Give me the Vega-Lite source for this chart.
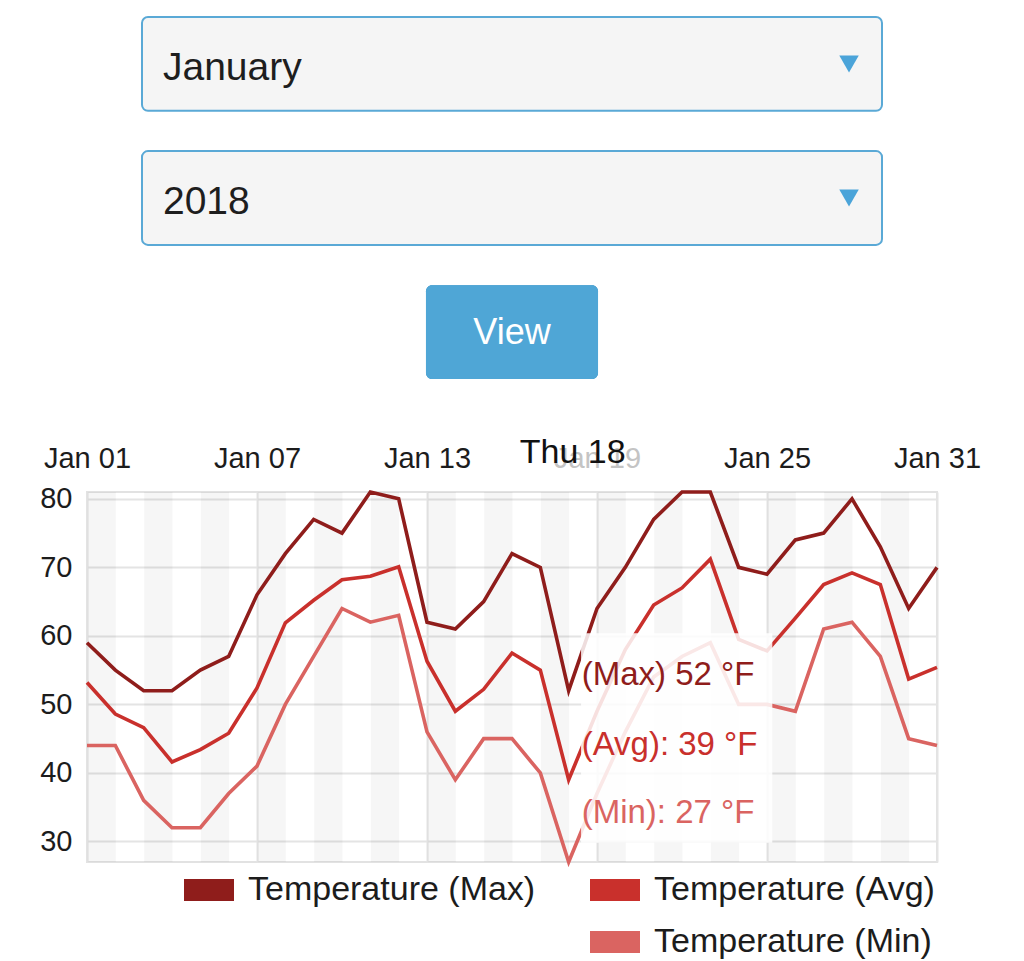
{
  "$schema": "https://vega.github.io/schema/vega-lite/v6.json",
  "padding": {"left": 38, "top": 0, "right": 0, "bottom": 0},
  "spacing": 39,
  "config": {
    "font": "Liberation Sans",
    "view": {"stroke": "#e2e2e2", "strokeWidth": 2}
  },
  "vconcat": [
    {
      "width": 850,
      "height": 396,
      "view": {"stroke": null},
      "data": {"values": [
        {"label": "January", "kind": "select"},
        {"label": "2018", "kind": "select"},
        {"label": "View", "kind": "button"}
      ]},
      "encoding": {
        "y": {"field": "label", "type": "nominal", "title": null, "axis": null,
              "scale": {"domain": ["January", "2018", "View"], "paddingInner": 0.3, "paddingOuter": 0.127}}
      },
      "layer": [
        {
          "transform": [{"filter": "datum.kind == 'select'"}],
          "mark": {"type": "rect", "fill": "#f5f5f5", "stroke": "#5aa9d6", "strokeWidth": 2, "cornerRadius": 6},
          "encoding": {
            "x": {"datum": 6.47, "type": "quantitative", "scale": {"domain": [0, 100]}, "axis": null, "title": null},
            "x2": {"datum": 93.53}
          }
        },
        {
          "transform": [{"filter": "datum.kind == 'select'"}],
          "mark": {"type": "text", "align": "left", "baseline": "middle", "fontSize": 39, "color": "#1e1e1e", "dy": 4},
          "encoding": {
            "x": {"datum": 8.94, "type": "quantitative"},
            "text": {"field": "label"}
          }
        },
        {
          "transform": [{"filter": "datum.kind == 'select'"}],
          "mark": {"type": "point", "shape": "triangle-down", "filled": true, "size": 380, "color": "#4ba4d9", "opacity": 1},
          "encoding": {
            "x": {"datum": 89.65, "type": "quantitative"}
          }
        },
        {
          "transform": [{"filter": "datum.kind == 'button'"}],
          "mark": {"type": "rect", "fill": "#3b8ec2", "cornerRadius": 6},
          "encoding": {
            "x": {"datum": 39.88, "type": "quantitative"},
            "x2": {"datum": 60.12}
          }
        },
        {
          "transform": [{"filter": "datum.kind == 'button'"}],
          "mark": {"type": "rect", "fill": "#4fa6d6", "cornerRadius": 6, "y2Offset": -6},
          "encoding": {
            "x": {"datum": 39.88, "type": "quantitative"},
            "x2": {"datum": 60.12}
          }
        },
        {
          "transform": [{"filter": "datum.kind == 'button'"}],
          "mark": {"type": "text", "align": "center", "baseline": "middle", "fontSize": 36, "color": "#ffffff", "dy": 1},
          "encoding": {
            "x": {"datum": 50, "type": "quantitative"},
            "text": {"field": "label"}
          }
        }
      ]
    },
    {
      "width": 850,
      "height": 370,
      "data": {"values": [
        {"date": "2018-01-01", "Temperature (Max)": 59, "Temperature (Avg)": 53.2, "Temperature (Min)": 44},
        {"date": "2018-01-02", "Temperature (Max)": 55, "Temperature (Avg)": 48.6, "Temperature (Min)": 44},
        {"date": "2018-01-03", "Temperature (Max)": 52, "Temperature (Avg)": 46.6, "Temperature (Min)": 36},
        {"date": "2018-01-04", "Temperature (Max)": 52, "Temperature (Avg)": 41.6, "Temperature (Min)": 32},
        {"date": "2018-01-05", "Temperature (Max)": 55, "Temperature (Avg)": 43.4, "Temperature (Min)": 32},
        {"date": "2018-01-06", "Temperature (Max)": 57, "Temperature (Avg)": 45.8, "Temperature (Min)": 37},
        {"date": "2018-01-07", "Temperature (Max)": 66, "Temperature (Avg)": 52.4, "Temperature (Min)": 41},
        {"date": "2018-01-08", "Temperature (Max)": 72, "Temperature (Avg)": 61.9, "Temperature (Min)": 50},
        {"date": "2018-01-09", "Temperature (Max)": 77, "Temperature (Avg)": 65.2, "Temperature (Min)": 57},
        {"date": "2018-01-10", "Temperature (Max)": 75, "Temperature (Avg)": 68.2, "Temperature (Min)": 64},
        {"date": "2018-01-11", "Temperature (Max)": 81, "Temperature (Avg)": 68.7, "Temperature (Min)": 62},
        {"date": "2018-01-12", "Temperature (Max)": 80, "Temperature (Avg)": 70.1, "Temperature (Min)": 63},
        {"date": "2018-01-13", "Temperature (Max)": 62, "Temperature (Avg)": 56.3, "Temperature (Min)": 46},
        {"date": "2018-01-14", "Temperature (Max)": 61, "Temperature (Avg)": 49.0, "Temperature (Min)": 39},
        {"date": "2018-01-15", "Temperature (Max)": 65, "Temperature (Avg)": 52.2, "Temperature (Min)": 45},
        {"date": "2018-01-16", "Temperature (Max)": 72, "Temperature (Avg)": 57.5, "Temperature (Min)": 45},
        {"date": "2018-01-17", "Temperature (Max)": 70, "Temperature (Avg)": 55.0, "Temperature (Min)": 40},
        {"date": "2018-01-18", "Temperature (Max)": 52, "Temperature (Avg)": 39.0, "Temperature (Min)": 27},
        {"date": "2018-01-19", "Temperature (Max)": 64, "Temperature (Avg)": 49.0, "Temperature (Min)": 37},
        {"date": "2018-01-20", "Temperature (Max)": 70, "Temperature (Avg)": 58.0, "Temperature (Min)": 46},
        {"date": "2018-01-21", "Temperature (Max)": 77, "Temperature (Avg)": 64.5, "Temperature (Min)": 54},
        {"date": "2018-01-22", "Temperature (Max)": 81, "Temperature (Avg)": 67.0, "Temperature (Min)": 57},
        {"date": "2018-01-23", "Temperature (Max)": 81, "Temperature (Avg)": 71.2, "Temperature (Min)": 59},
        {"date": "2018-01-24", "Temperature (Max)": 70, "Temperature (Avg)": 59.5, "Temperature (Min)": 50},
        {"date": "2018-01-25", "Temperature (Max)": 69, "Temperature (Avg)": 57.8, "Temperature (Min)": 50},
        {"date": "2018-01-26", "Temperature (Max)": 74, "Temperature (Avg)": 62.6, "Temperature (Min)": 49},
        {"date": "2018-01-27", "Temperature (Max)": 75, "Temperature (Avg)": 67.5, "Temperature (Min)": 61},
        {"date": "2018-01-28", "Temperature (Max)": 80, "Temperature (Avg)": 69.2, "Temperature (Min)": 62},
        {"date": "2018-01-29", "Temperature (Max)": 73, "Temperature (Avg)": 67.5, "Temperature (Min)": 57},
        {"date": "2018-01-30", "Temperature (Max)": 64, "Temperature (Avg)": 53.7, "Temperature (Min)": 45},
        {"date": "2018-01-31", "Temperature (Max)": 70, "Temperature (Avg)": 55.4, "Temperature (Min)": 44}
      ]},
      "layer": [
        {
          "transform": [{"filter": "utcdate(toDate(datum.date)) % 2 == 1"}],
          "mark": {"type": "rect", "fill": "#000000", "fillOpacity": 0.035, "clip": true},
          "encoding": {
            "x": {"field": "date", "timeUnit": "utcyearmonthdate", "type": "temporal", "title": null,
                  "scale": {"type": "utc", "nice": false, "domain": [{"year": 2018, "month": 1, "date": 1, "utc": true}, {"year": 2018, "month": 1, "date": 31, "utc": true}]},
                  "axis": {"orient": "top", "title": null,
                    "values": [{"year": 2018, "month": 1, "date": 1, "utc": true}, {"year": 2018, "month": 1, "date": 7, "utc": true}, {"year": 2018, "month": 1, "date": 13, "utc": true}, {"year": 2018, "month": 1, "date": 19, "utc": true}, {"year": 2018, "month": 1, "date": 25, "utc": true}, {"year": 2018, "month": 1, "date": 31, "utc": true}],
                    "labelExpr": "utcFormat(datum.value, '%b %d')",
                    "labelFontSize": 29, "labelPadding": 25, "labelBaseline": "alphabetic",
                    "labelColor": {"condition": {"test": "utcdate(datum.value) == 19", "value": "#c4c4c4"}, "value": "#1c1c1c"},
                    "labelFlush": false, "labelOverlap": false,
                    "ticks": false, "tickSize": 0, "domain": false,
                    "grid": true, "gridColor": "#e4e4e4", "gridWidth": 2}}
          }
        },
        {
          "transform": [{"fold": ["Temperature (Max)", "Temperature (Avg)", "Temperature (Min)"], "as": ["series", "temp"]}],
          "mark": {"type": "line", "strokeWidth": 3.6},
          "encoding": {
            "x": {"field": "date", "type": "temporal", "title": null},
            "y": {"field": "temp", "type": "quantitative", "title": null,
                  "scale": {"domain": [27, 81], "nice": false, "zero": false},
                  "axis": {"values": [30, 40, 50, 60, 70, 80], "labelFontSize": 29, "labelPadding": 15, "labelColor": "#1c1c1c",
                           "ticks": false, "tickSize": 0, "domain": false, "grid": true, "gridColor": "#e4e4e4", "gridWidth": 2, "title": null}},
            "color": {"field": "series", "type": "nominal",
                      "scale": {"domain": ["Temperature (Max)", "Temperature (Avg)", " ", "Temperature (Min)"],
                                "range": ["#8f1d1b", "#c9302c", "#ffffff", "#da6461"]},
                      "legend": {"orient": "none", "legendX": 86, "legendY": 865, "direction": "horizontal", "columns": 2,
                                 "title": null, "symbolType": "stroke", "symbolSize": 2500, "symbolStrokeWidth": 22,
                                 "symbolOpacity": 1, "labelFontSize": 34, "labelLimit": 500, "labelOffset": 3,
                                 "columnPadding": 43, "rowPadding": 2, "clipHeight": 50, "labelColor": "#1c1c1c", "gridAlign": "each"}}
          }
        },
        {
          "data": {"values": [{"date": "2018-01-18", "label": "Thu 18"}]},
          "mark": {"type": "rect", "fill": "#ffffff", "fillOpacity": 0.85},
          "encoding": {
            "x": {"datum": {"year": 2018, "month": 1, "date": 18, "hours": 10, "minutes": 30, "utc": true}, "type": "temporal", "title": null},
            "x2": {"datum": {"year": 2018, "month": 1, "date": 25, "hours": 4, "minutes": 30, "utc": true}},
            "y": {"datum": 60.4, "type": "quantitative", "title": null},
            "y2": {"datum": 29.8}
          }
        },
        {
          "data": {"values": [{"date": "2018-01-18", "label": "(Max) 52 °F"}]},
          "mark": {"type": "text", "align": "left", "baseline": "alphabetic", "fontSize": 33, "color": "#8f1d1b", "dx": 13},
          "encoding": {
            "x": {"field": "date", "type": "temporal", "title": null},
            "y": {"datum": 52.83, "type": "quantitative", "title": null},
            "text": {"field": "label"}
          }
        },
        {
          "data": {"values": [{"date": "2018-01-18", "label": "(Avg): 39 °F"}]},
          "mark": {"type": "text", "align": "left", "baseline": "alphabetic", "fontSize": 33, "color": "#c9302c", "dx": 13},
          "encoding": {
            "x": {"field": "date", "type": "temporal", "title": null},
            "y": {"datum": 42.62, "type": "quantitative", "title": null},
            "text": {"field": "label"}
          }
        },
        {
          "data": {"values": [{"date": "2018-01-18", "label": "(Min): 27 °F"}]},
          "mark": {"type": "text", "align": "left", "baseline": "alphabetic", "fontSize": 33, "color": "#da6461", "dx": 13},
          "encoding": {
            "x": {"field": "date", "type": "temporal", "title": null},
            "y": {"datum": 32.69, "type": "quantitative", "title": null},
            "text": {"field": "label"}
          }
        },
        {
          "data": {"values": [{"date": "2018-01-18", "label": "Thu 18"}]},
          "mark": {"type": "text", "align": "center", "baseline": "alphabetic", "fontSize": 34, "color": "#111111", "dx": 4},
          "encoding": {
            "x": {"field": "date", "type": "temporal", "title": null},
            "y": {"datum": 85.23, "type": "quantitative", "title": null},
            "text": {"field": "label"}
          }
        }
      ]
    }
  ]
}
